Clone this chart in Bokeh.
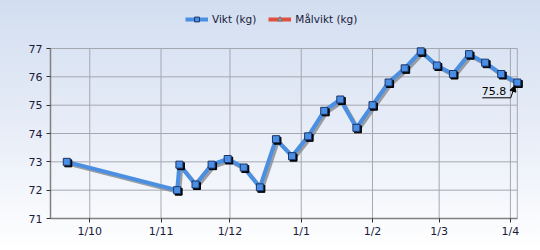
import pandas as pd
from bokeh.plotting import figure
from bokeh.models import (Range1d, FixedTicker, Legend, LegendItem,
                          Arrow, NormalHead, ColumnDataSource)
from bokeh.core.properties import value
from bokeh.embed import file_html
from bokeh.resources import INLINE

# ---- data ----
dates = ["2023-09-21", "2023-11-08", "2023-11-09", "2023-11-16", "2023-11-23",
         "2023-11-30", "2023-12-07", "2023-12-14", "2023-12-21", "2023-12-28",
         "2024-01-04", "2024-01-11", "2024-01-18", "2024-01-25", "2024-02-01",
         "2024-02-08", "2024-02-15", "2024-02-22", "2024-02-29", "2024-03-07",
         "2024-03-14", "2024-03-21", "2024-03-28", "2024-04-04"]
weights = [73.0, 72.0, 72.9, 72.2, 72.9, 73.1, 72.8, 72.1, 73.8, 73.2,
           73.9, 74.8, 75.2, 74.2, 75.0, 75.8, 76.3, 76.9, 76.4, 76.1,
           76.8, 76.5, 76.1, 75.8]
goal_dates = []
goal_weights = []
y_ticks = [71, 72, 73, 74, 75, 76, 77]
x_tick_dates = ["2023-10-01", "2023-11-01", "2023-12-01", "2024-01-01",
                "2024-02-01", "2024-03-01", "2024-04-01"]
x_tick_labels = ["1/10", "1/11", "1/12", "1/1", "1/2", "1/3", "1/4"]
series_names = ["Vikt (kg)", "Målvikt (kg)"]


def ms(t):
    return pd.Timestamp(t).value / 1e6


x_start = pd.Timestamp("2023-09-13 22:00")
x_border = pd.Timestamp("2024-04-04")
x_end = pd.Timestamp("2024-04-08")
W, H = 540, 250
ML, MR, MB = 50, 14, 32
PLOT_TOP = 48          # pixel row of the top of the visible plot box
frame_w = W - ML - MR
frame_h = H - MB       # frame reaches the top of the canvas (legend lives there)
box_h = frame_h - PLOT_TOP
days_span = (x_end - x_start).total_seconds() / 86400
px_per_day = frame_w / days_span
px_per_kg = box_h / (y_ticks[-1] - y_ticks[0])
y_end = y_ticks[-1] + PLOT_TOP / px_per_kg


def dx(px):
    return pd.Timedelta(days=px / px_per_day)


def dy(px):
    return px / px_per_kg


FONT = "DejaVu Sans"
TXT = "#1a1a3a"
GRID = "#a4a8b0"

p = figure(width=W, height=H, x_axis_type="datetime",
           x_range=Range1d(ms(x_start), ms(x_end)),
           y_range=Range1d(y_ticks[0], y_end),
           output_backend="svg", toolbar_location=None, title=None,
           min_border_left=ML, min_border_right=MR,
           min_border_top=0, min_border_bottom=MB)
p.background_fill_color = None
p.border_fill_color = None
p.outline_line_color = None
p.styles = {"background": "linear-gradient(to bottom, #d2def0 0%, #e9eef8 55%, #ffffff 100%)"}

xt = [ms(d) for d in x_tick_dates]
p.xaxis.ticker = FixedTicker(ticks=xt)
p.xaxis.major_label_overrides = {t: l for t, l in zip(xt, x_tick_labels)}
p.yaxis.ticker = FixedTicker(ticks=y_ticks)
p.xaxis.bounds = (ms(x_start), ms(x_border))
p.yaxis.bounds = (y_ticks[0], y_ticks[-1])
p.xgrid.visible = False
p.ygrid.visible = False

for ax in (p.xaxis, p.yaxis):
    ax.axis_line_color = "#808080"
    ax.axis_line_width = 1.5
    ax.major_tick_line_color = "#303030"
    ax.major_tick_out = 4
    ax.major_tick_in = 0
    ax.minor_tick_line_color = None
    ax.major_label_text_font = FONT
    ax.major_label_text_font_size = "11px"
    ax.major_label_text_color = TXT
    ax.major_label_standoff = 4
p.xaxis.major_label_standoff = 2

# grid lines limited to the plot box (month ticks, kg ticks, right edge)
vx = xt + [ms(x_border)]
p.segment(x0=vx, x1=vx, y0=[y_ticks[0]] * len(vx), y1=[y_ticks[-1]] * len(vx),
          line_color=GRID, line_width=1)
p.segment(x0=[ms(x_start)] * len(y_ticks), x1=[ms(x_border)] * len(y_ticks),
          y0=y_ticks, y1=y_ticks, line_color=GRID, line_width=1)

x = pd.to_datetime(pd.Series(dates))
y = pd.Series(weights)

src = ColumnDataSource(dict(x=x, y=y))
shadow = ColumnDataSource(dict(x=x + dx(2), y=y - dy(2)))
mshadow = ColumnDataSource(dict(x=x + dx(1.5), y=y - dy(1.5)))

p.line("x", "y", source=shadow, line_color="#7f8288", line_width=4, line_alpha=0.75)
r_line = p.line("x", "y", source=src, line_color="#4a8fe2", line_width=4)
p.scatter("x", "y", source=mshadow, marker="square", size=7,
          fill_color="#000000", line_color="#000000")
r_mark = p.scatter("x", "y", source=src, marker="square", size=7,
                   fill_color="#4a8ee6", line_color="#1c3566", line_width=1)

# goal series: no values shown in the chart (NaN placeholder keeps legend glyph)
gx = [ms(d) for d in goal_dates] or [ms(x_start)]
gy = list(goal_weights) or [float("nan")]
gsrc = ColumnDataSource(dict(x=gx, y=gy))
g_line = p.line("x", "y", source=gsrc, line_color="#e0503c", line_width=4)
g_mark = p.scatter("x", "y", source=gsrc, marker="triangle", size=6,
                   fill_color="#9a9aa0", line_color="#707070")

legend = Legend(items=[LegendItem(label=series_names[0], renderers=[r_line, r_mark]),
                       LegendItem(label=series_names[1], renderers=[g_line, g_mark])],
                orientation="horizontal", location=(135, frame_h - 25),
                background_fill_alpha=0, border_line_alpha=0,
                label_text_font=FONT, label_text_font_size="10.5px",
                label_text_color=TXT, glyph_width=23, glyph_height=12,
                label_standoff=4, spacing=12, padding=0, margin=0,
                label_height=12)
p.add_layout(legend)

# annotation on last point
lx = x.iloc[-1]
ly = y.iloc[-1]
p.text(x=[lx], y=[ly], text=[f"{ly:.1f}"], x_offset=-11, y_offset=12,
       text_align="right", text_baseline="bottom",
       text_font=value(FONT), text_font_size="11px", text_color="#000000")
ux0 = ms(lx + dx(-35))
ux1 = ms(lx + dx(-6.5))
uy = ly - dy(15.3)
p.segment(x0=[ux0], y0=[uy], x1=[ux1], y1=[uy], line_color="#000000", line_width=1)
p.add_layout(Arrow(end=NormalHead(size=6, fill_color="#000000", line_color="#000000"),
                   x_start=ux1, y_start=uy,
                   x_end=ms(lx + dx(-2.5)), y_end=ly - dy(3),
                   line_color="#000000", line_width=1))

open("out.html", "w").write(file_html(p, INLINE))
